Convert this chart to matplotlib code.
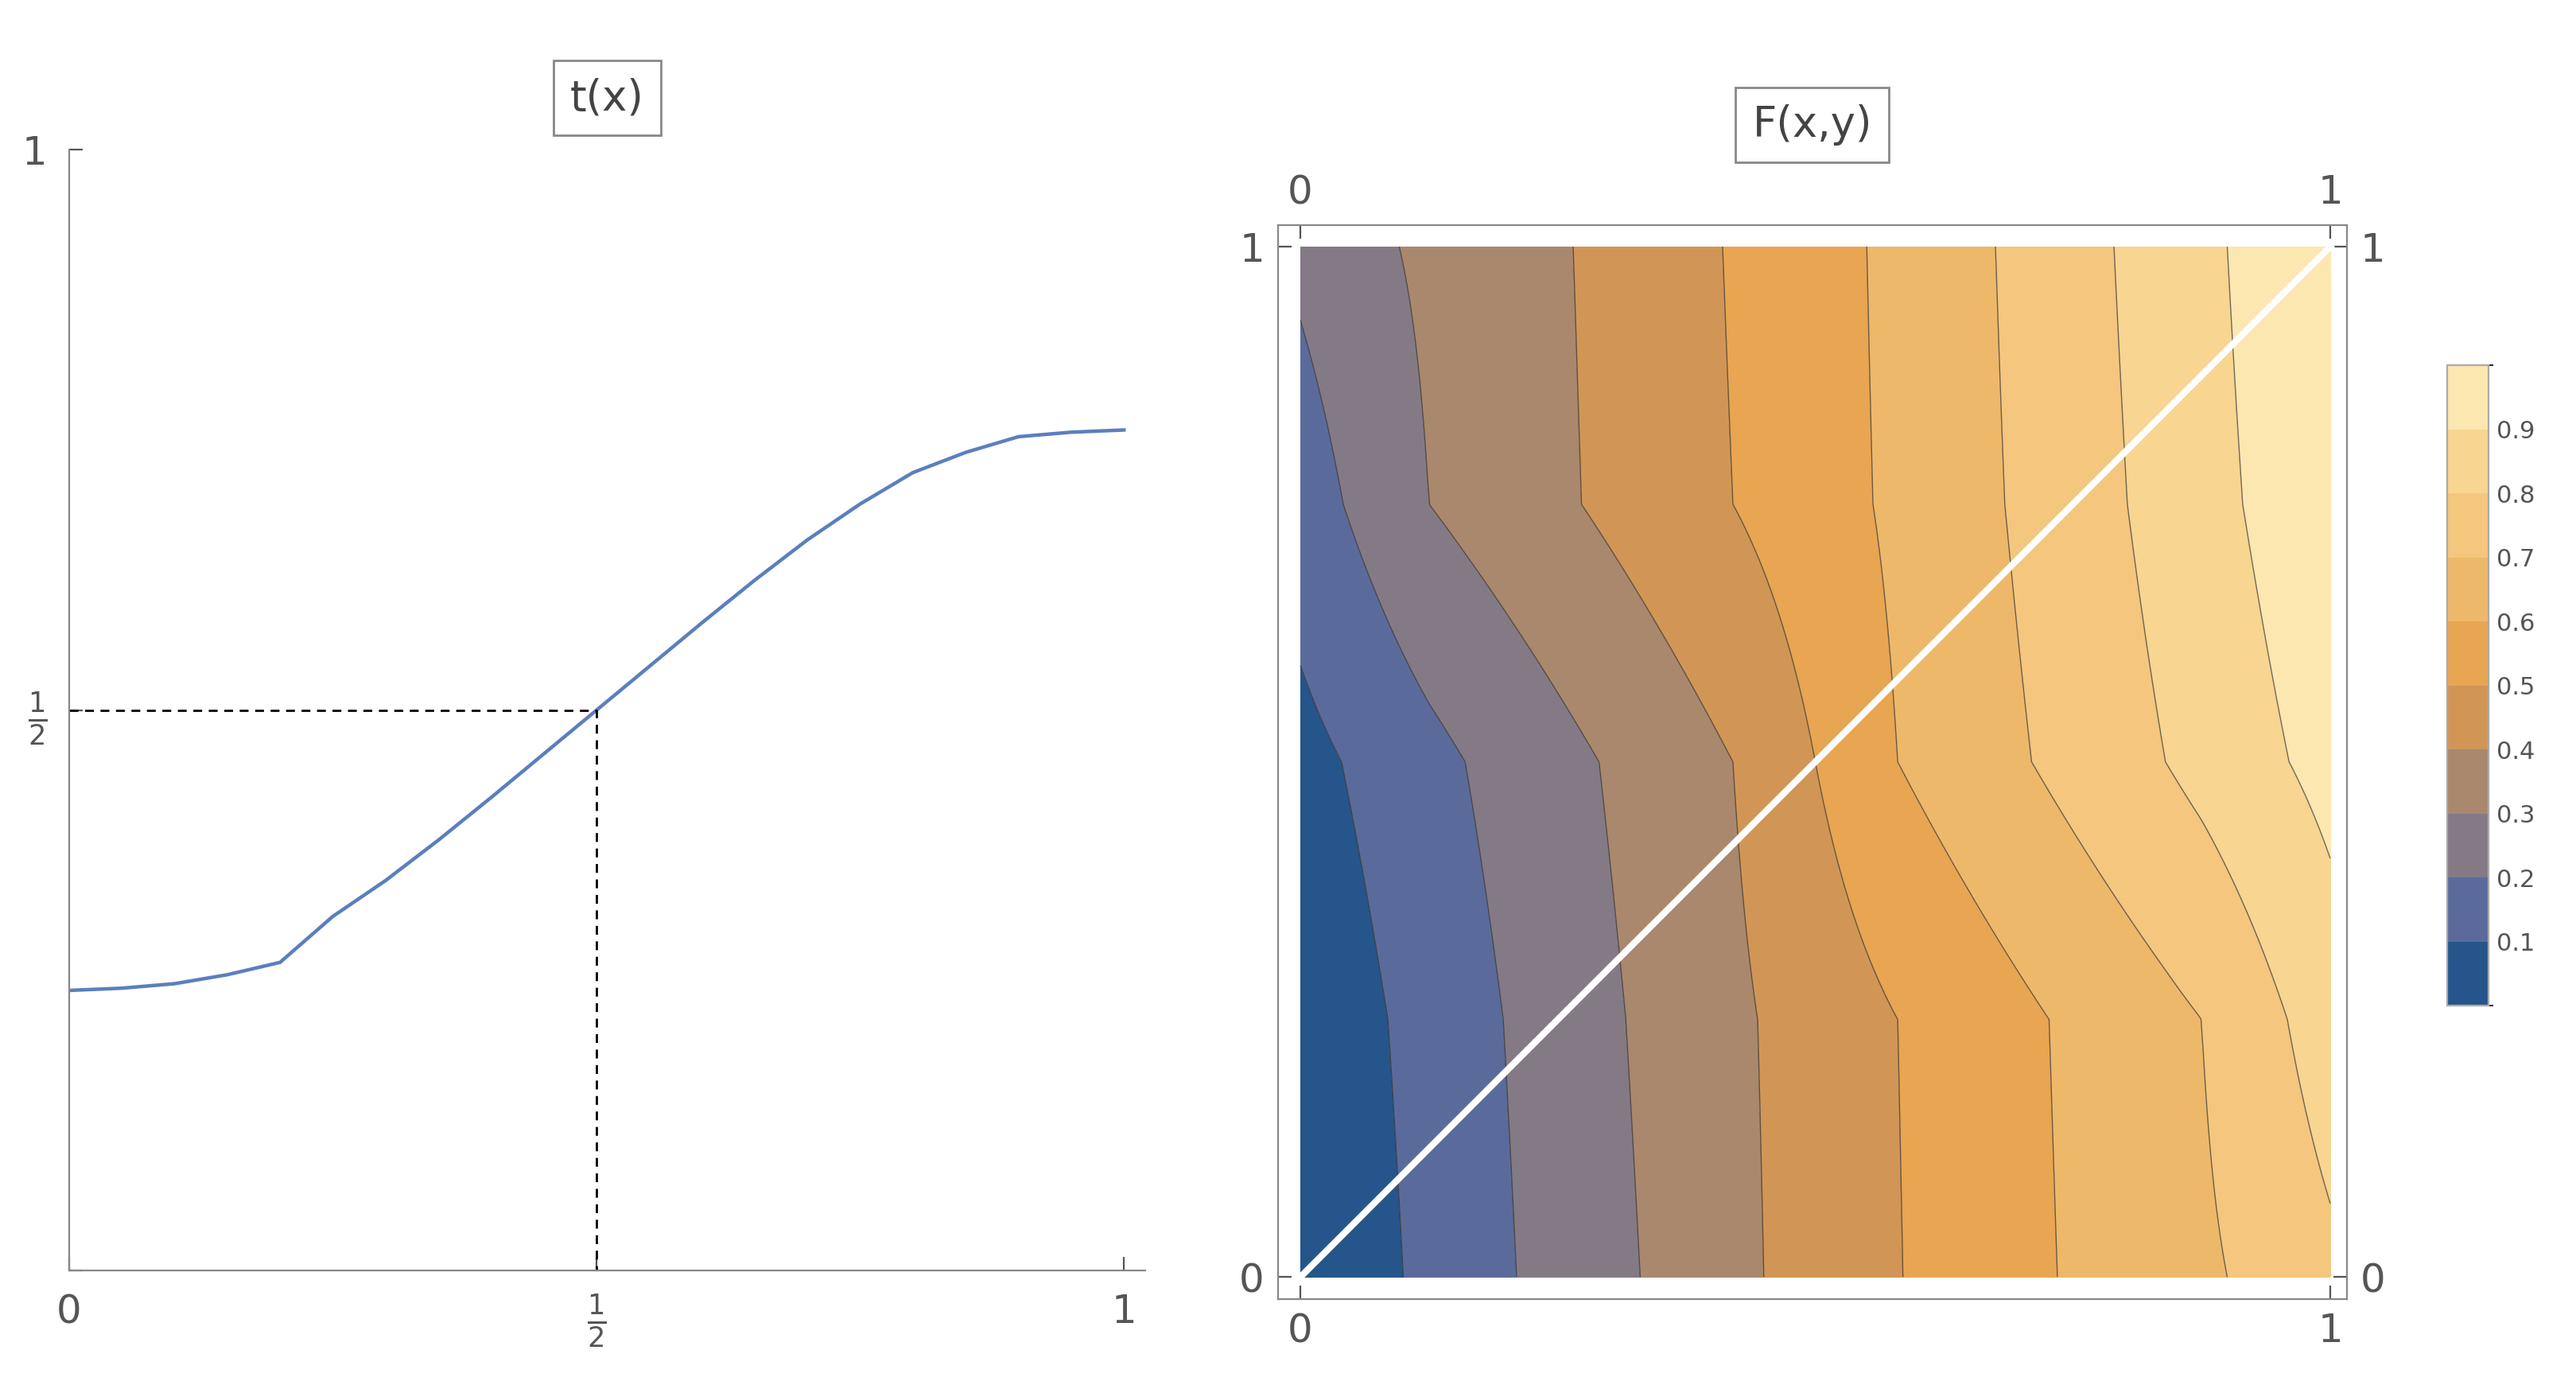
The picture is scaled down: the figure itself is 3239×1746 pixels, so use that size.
import numpy as np
import matplotlib.pyplot as plt
from matplotlib.colors import ListedColormap, BoundaryNorm

# --- courbe t(x), valeurs ---
t_x = [0.0, 0.05, 0.1, 0.15, 0.2, 0.25, 0.3, 0.35, 0.4, 0.45, 0.5,
       0.55, 0.6, 0.65, 0.7, 0.75, 0.8, 0.85, 0.9, 0.95, 1.0]
t_y = [0.250, 0.252, 0.256, 0.264, 0.275, 0.290, 0.308, 0.329, 0.352, 0.376, 0.500 - 0.0,
       0.539, 0.578, 0.616, 0.652, 0.684, 0.712, 0.730, 0.744, 0.748, 0.750]
t_y[10] = 0.5
t_y[9] = 0.461
t_y[8] = 0.422
t_y[7] = 0.384
t_y[6] = 0.348
t_y[5] = 0.316

# --- champ F(x,y) : positions x des isolignes par ligne y ---
rows_y = [0.0, 0.25, 0.5, 0.75, 1.0]
row_x = [
    [0.0, 0.10, 0.21, 0.33, 0.45, 0.585, 0.735, 0.90, 1.0],
    [0.0, 0.085, 0.197, 0.316, 0.444, 0.58, 0.727, 0.875, 1.0],
    [0.0, 0.04, 0.16, 0.29, 0.42, 0.50, 0.58, 0.71, 0.84, 0.96, 1.0],
    [0.0, 0.125, 0.273, 0.42, 0.556, 0.684, 0.803, 0.915, 1.0],
    [0.0, 0.096, 0.265, 0.41, 0.55, 0.675, 0.79, 0.90, 1.0],
]
row_f = [
    [0.0, 0.1, 0.2, 0.3, 0.4, 0.5, 0.6, 0.7, 0.78],
    [0.02, 0.1, 0.2, 0.3, 0.4, 0.5, 0.6, 0.7, 0.85],
    [0.07, 0.1, 0.2, 0.3, 0.4, 0.5, 0.6, 0.7, 0.8, 0.9, 0.93],
    [0.15, 0.3, 0.4, 0.5, 0.6, 0.7, 0.8, 0.9, 0.98],
    [0.22, 0.3, 0.4, 0.5, 0.6, 0.7, 0.8, 0.9, 1.0],
]
levels = [0.0, 0.1, 0.2, 0.3, 0.4, 0.5, 0.6, 0.7, 0.8, 0.9, 1.0]
band_colors = ["#25558a", "#5a6b9b", "#847a86", "#a9886d", "#d19656",
               "#e8a552", "#eeb86a", "#f4c67e", "#f8d590", "#fde7b0"]

gx = np.linspace(0, 1, 301)
gy = np.linspace(0, 1, 301)
rows = np.array([np.interp(gx, xs, fs) for xs, fs in zip(row_x, row_f)])
F = np.array([[np.interp(y, rows_y, rows[:, j]) for j in range(len(gx))] for y in gy])

GRAY = "#555555"
fig = plt.figure(figsize=(16.195, 8.73), dpi=200)

# --- panneau gauche ---
ax = fig.add_axes([0.0268, 0.0852, 0.4177, 0.807])
ax.plot(t_x, t_y, color="#5b7fbd", lw=1.6)
ax.plot([0, 0.5, 0.5], [0.5, 0.5, 0], ls="--", color="black", lw=1.0, dashes=(4, 3))
ax.set_xlim(0, 1.02)
ax.set_ylim(0, 1)
for s in ["top", "right"]:
    ax.spines[s].set_visible(False)
for s in ["left", "bottom"]:
    ax.spines[s].set_color("#888888")
ax.set_xticks([0, 0.5, 1])
ax.set_xticklabels(["0", r"$\frac{1}{2}$", "1"])
ax.set_yticks([0, 0.5, 1])
ax.set_yticklabels(["", r"$\frac{1}{2}$", "1"])
ax.tick_params(colors=GRAY, labelsize=18, length=6, direction="in", pad=10)
ax.set_title("t(x)", fontsize=19, color="#444444", pad=18,
             bbox=dict(boxstyle="square,pad=0.4", fc="white", ec="#888888"))

# --- panneau droit ---
cmap = ListedColormap(band_colors)
norm = BoundaryNorm(levels, cmap.N)
ax2 = fig.add_axes([0.496, 0.065, 0.415, 0.773])
cf = ax2.contourf(gx, gy, F, levels=levels, cmap=cmap, norm=norm)
ax2.contour(gx, gy, F, levels=levels[1:-1], colors="#333333", linewidths=0.5, alpha=0.7)
ax2.plot([0, 1], [0, 1], color="white", lw=3)
ax2.set_xlim(-0.022, 1.016)
ax2.set_ylim(-0.021, 1.021)
for s in ax2.spines.values():
    s.set_color("#888888")
ax2.set_xticks([0, 1])
ax2.set_yticks([0, 1])
ax2.set_xticklabels(["0", "1"])
ax2.set_yticklabels(["0", "1"])
ax2.tick_params(colors=GRAY, labelsize=18, length=6, direction="in",
                top=True, right=True, labeltop=True, labelright=True, pad=6)
ax2.set_title("F(x,y)", fontsize=19, color="#444444", pad=40,
              bbox=dict(boxstyle="square,pad=0.4", fc="white", ec="#888888"))

cax = fig.add_axes([0.950, 0.276, 0.016, 0.461])
cb = fig.colorbar(cf, cax=cax, ticks=levels[1:-1])
cb.ax.tick_params(colors=GRAY, labelsize=11, length=0)
cb.outline.set_edgecolor("#aaaaaa")
cb.ax.set_yticklabels(["0.1", "0.2", "0.3", "0.4", "0.5", "0.6", "0.7", "0.8", "0.9"])

fig.savefig("out.png", dpi=200)
